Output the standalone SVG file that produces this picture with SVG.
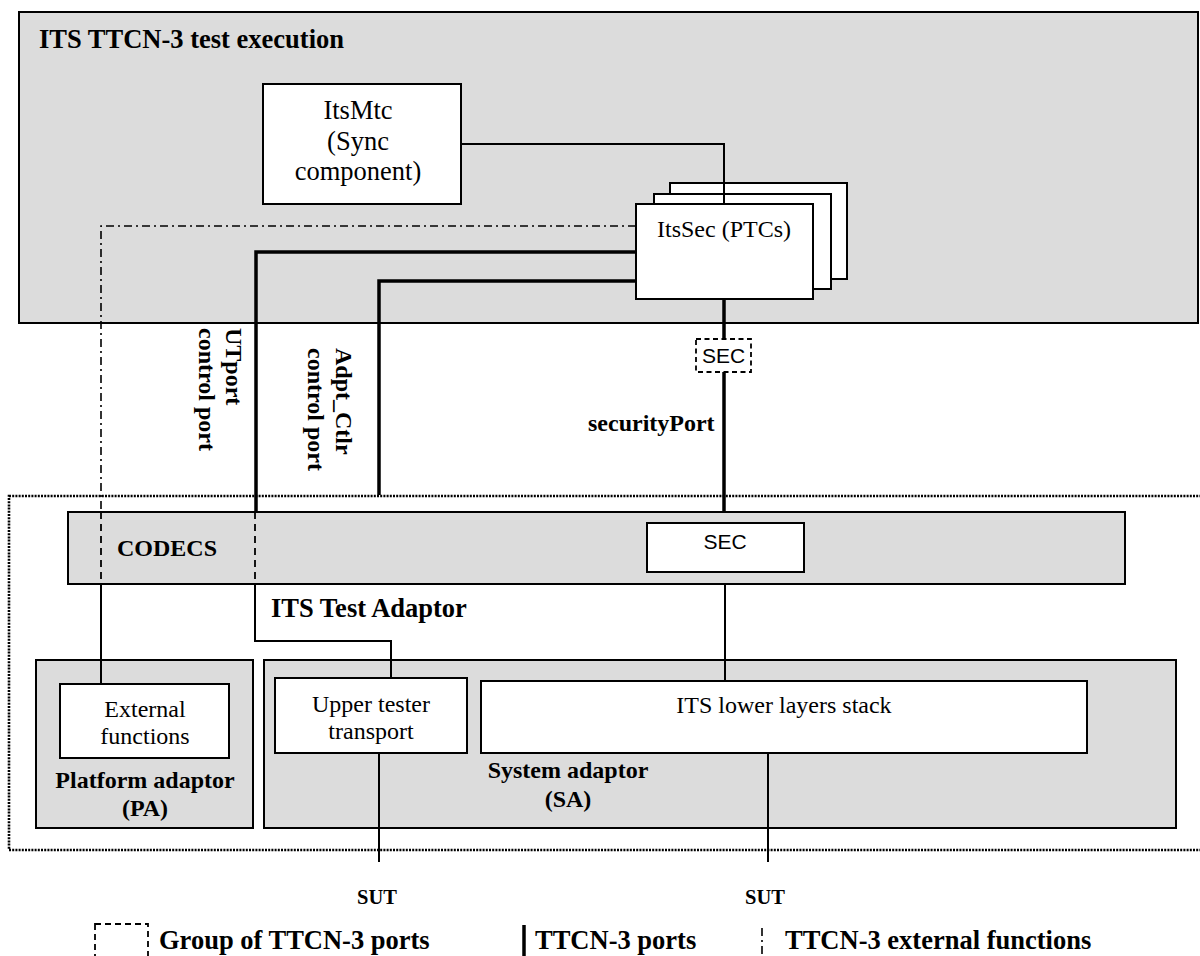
<svg xmlns="http://www.w3.org/2000/svg" width="1200" height="956" viewBox="0 0 1200 956">
<style>
.box{fill:#dcdcdc;stroke:#000;stroke-width:2}
.wbox{fill:#fff;stroke:#000;stroke-width:2}
.t{font-family:"Liberation Serif","Times New Roman",serif;fill:#000}
.b{font-family:"Liberation Serif","Times New Roman",serif;font-weight:bold;fill:#000}
.a{font-family:"Liberation Sans",Arial,sans-serif;fill:#000}
.thick{fill:none;stroke:#000;stroke-width:3.5}
.thin{fill:none;stroke:#000;stroke-width:2}
.dash{fill:none;stroke:#000;stroke-width:1.8;stroke-dasharray:7 5}
.dashdot{fill:none;stroke:#000;stroke-width:1.6;stroke-dasharray:8 4 2 4}
.dot{fill:none;stroke:#000;stroke-width:2.6;stroke-dasharray:2 1.2}
</style>
<rect width="1200" height="956" fill="#fff"/>

<g id="exec">
<rect class="box" x="19" y="12" width="1179" height="311"/>
<text class="b" x="39" y="48" font-size="26.5">ITS TTCN-3 test execution</text>
</g>

<g id="adaptor">
<rect class="dot" x="9" y="496" width="1200" height="354"/>
<text class="b" x="271" y="617" font-size="26.5">ITS Test Adaptor</text>
</g>

<g id="itsmtc">
<rect class="wbox" x="263" y="84" width="198" height="120"/>
<text class="t" x="358" y="119" font-size="26.5" text-anchor="middle">ItsMtc</text>
<text class="t" x="358" y="150" font-size="26.5" text-anchor="middle">(Sync</text>
<text class="t" x="358" y="180" font-size="26.5" text-anchor="middle">component)</text>
</g>

<g id="itssec">
<rect class="wbox" x="670" y="183" width="177" height="96"/>
<rect class="wbox" x="654" y="194" width="177" height="95"/>
<line class="thin" x1="724" y1="183" x2="724" y2="204"/>
<rect class="wbox" x="636" y="204" width="177" height="95"/>
<text class="t" x="724" y="237" font-size="24" text-anchor="middle">ItsSec (PTCs)</text>
</g>

<g id="codecs">
<rect class="box" x="68" y="512" width="1057" height="72"/>
<text class="b" x="117" y="556" font-size="24">CODECS</text>
</g>
<g id="codec-sec">
<rect class="wbox" x="647" y="523" width="157" height="49"/>
<text class="a" x="725" y="549" font-size="21" text-anchor="middle">SEC</text>
</g>

<g id="pa">
<rect class="box" x="36" y="660" width="217" height="168"/>
<text class="b" x="145" y="788" font-size="24" text-anchor="middle">Platform adaptor</text>
<text class="b" x="145" y="816" font-size="24" text-anchor="middle">(PA)</text>
</g>
<g id="extfn">
<rect class="wbox" x="60" y="684" width="169" height="74"/>
<text class="t" x="145" y="717" font-size="24" text-anchor="middle">External</text>
<text class="t" x="145" y="744" font-size="24" text-anchor="middle">functions</text>
</g>

<g id="sa">
<rect class="box" x="264" y="660" width="912" height="168"/>
<text class="b" x="568" y="778" font-size="24" text-anchor="middle">System adaptor</text>
<text class="b" x="568" y="807" font-size="24" text-anchor="middle">(SA)</text>
</g>
<g id="ut">
<rect class="wbox" x="275" y="678" width="192" height="75"/>
<text class="t" x="371" y="712" font-size="24" text-anchor="middle">Upper tester</text>
<text class="t" x="371" y="739" font-size="24" text-anchor="middle">transport</text>
</g>
<g id="lls">
<rect class="wbox" x="481" y="681" width="606" height="72"/>
<text class="t" x="784" y="713" font-size="24" text-anchor="middle">ITS lower layers stack</text>
</g>

<g id="sec-port">
<rect x="696" y="339" width="55" height="33" fill="#fff" stroke="#000" stroke-width="1.8" stroke-dasharray="5 3.5"/>
<text class="a" x="723.5" y="363" font-size="21" text-anchor="middle">SEC</text>
</g>

<g id="connectors">
<polyline class="thin" points="461,144 724,144 724,183"/>
<polyline class="dashdot" points="636,226 101,226 101,512"/>
<line class="dash" x1="101" y1="512" x2="101" y2="584"/>
<line class="thin" x1="101" y1="584" x2="101" y2="684"/>
<polyline class="thick" points="636,252 256,252 256,512"/>
<line class="dash" x1="255" y1="512" x2="255" y2="584"/>
<polyline class="thin" points="255,584 255,641 391,641 391,678"/>
<polyline class="thick" points="636,281 379,281 379,495"/>
<line class="thick" x1="724" y1="299" x2="724" y2="339"/>
<line class="thick" x1="724" y1="372" x2="724" y2="512"/>
<line class="thin" x1="725" y1="584" x2="725" y2="681"/>
<line class="thin" x1="379" y1="753" x2="379" y2="862"/>
<line class="thin" x1="768" y1="753" x2="768" y2="862"/>
</g>

<g id="labels">
<text class="b" transform="translate(226,328) rotate(90)" font-size="24">UTport</text>
<text class="b" transform="translate(199,328) rotate(90)" font-size="24">control port</text>
<text class="b" transform="translate(336,348) rotate(90)" font-size="24">Adpt_Ctlr</text>
<text class="b" transform="translate(308,348) rotate(90)" font-size="24">control port</text>
<text class="b" x="588" y="431" font-size="24">securityPort</text>
<text class="b" x="377" y="904" font-size="20.5" text-anchor="middle">SUT</text>
<text class="b" x="765" y="904" font-size="20.5" text-anchor="middle">SUT</text>
</g>

<g id="legend">
<rect x="95" y="924" width="53" height="40" fill="none" stroke="#000" stroke-width="1.8" stroke-dasharray="6 4"/>
<text class="b" x="159" y="949" font-size="26.5">Group of TTCN-3 ports</text>
<line class="thick" x1="524" y1="925" x2="524" y2="956"/>
<text class="b" x="535" y="949" font-size="26.5">TTCN-3 ports</text>
<line class="dashdot" x1="762" y1="928" x2="762" y2="956"/>
<text class="b" x="785" y="949" font-size="26.5">TTCN-3 external functions</text>
</g>
</svg>
